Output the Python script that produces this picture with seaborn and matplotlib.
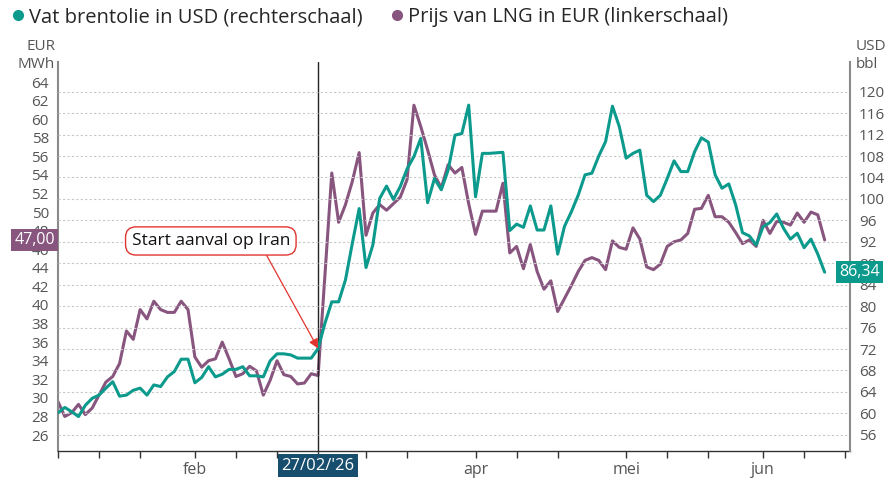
import numpy as np
import pandas as pd
import matplotlib
matplotlib.use("Agg")
import matplotlib.pyplot as plt
from matplotlib.lines import Line2D
import seaborn as sns

# dagkoersen, één waarde per handelsdag (start 6 jan 2026)
LNG_EUR = [
    29.6, 28.0, 28.4, 29.3, 28.2, 28.9, 30.3, 31.7, 32.3, 33.7,
    37.2, 36.3, 39.5, 38.5, 40.4, 39.5, 39.2, 39.2, 40.4, 39.5,
    34.4, 33.3, 34.0, 34.2, 36.0, 34.2, 32.3, 32.6, 33.4, 32.9,
    30.3, 31.9, 34.0, 32.5, 32.3, 31.5, 31.6, 32.6, 32.4, 43.2,
    54.2, 48.9, 50.8, 53.3, 56.4, 47.5, 49.9, 50.8, 50.2, 50.9,
    51.6, 53.5, 61.5, 59.2, 56.7, 54.0, 52.6, 55.1, 54.2, 54.8,
    50.9, 47.6, 50.1, 50.1, 50.1, 53.1, 45.6, 46.3, 43.9, 46.5,
    43.6, 41.7, 42.6, 39.3, 40.7, 42.1, 43.6, 44.8, 45.1, 44.8,
    43.8, 46.9, 46.2, 46.0, 48.3, 47.1, 44.1, 43.8, 44.4, 46.3,
    46.8, 47.0, 47.7, 50.3, 50.4, 51.8, 49.5, 49.5, 48.9, 47.8,
    46.6, 47.0, 46.3, 49.1, 47.7, 49.0, 48.9, 48.6, 49.9, 48.9,
    50.0, 49.7, 47.0,
]

BRENT_USD = [
    60.1, 61.1, 60.3, 59.4, 61.5, 62.8, 63.4, 64.7, 65.9, 63.2,
    63.4, 64.3, 64.7, 63.4, 65.3, 65.0, 66.8, 67.8, 70.1, 70.1,
    65.7, 66.7, 68.7, 66.8, 67.3, 68.2, 68.2, 68.7, 67.0, 67.0,
    66.8, 69.8, 71.1, 71.1, 70.9, 70.3, 70.3, 70.3, 72.1, 76.8,
    80.8, 80.8, 84.9, 91.7, 98.2, 87.2, 91.4, 100.1, 102.4, 99.9,
    102.3, 105.6, 107.9, 111.3, 99.3, 103.8, 101.7, 105.4, 111.9, 112.2,
    117.5, 100.4, 108.5, 108.5, 108.6, 108.7, 94.1, 95.3, 94.7, 98.7,
    94.2, 94.2, 98.7, 89.7, 94.9, 97.6, 100.7, 104.5, 104.8, 108.0,
    110.7, 117.3, 113.5, 107.6, 108.5, 109.1, 100.7, 99.5, 100.7, 103.8,
    107.1, 105.1, 105.1, 108.8, 111.4, 110.6, 104.5, 102.0, 102.8, 98.9,
    93.7, 93.1, 91.4, 94.8, 95.6, 97.2, 94.5, 92.5, 93.6, 90.9,
    92.5, 89.7, 86.34,
]

SERIES_LABELS = ["Vat brentolie in USD (rechterschaal)", "Prijs van LNG in EUR (linkerschaal)"]
MONTH_LABELS = ["feb", "apr", "mei", "jun"]
MONTH_POS = [20, 61, 83, 103]
TICK_POS = [0, 6, 12, 20, 26, 32, 38, 45, 51, 61, 67, 73, 83, 89, 95, 103, 109, 115]
LEFT_TICKS = list(range(26, 65, 2))
RIGHT_TICKS = list(range(56, 121, 4))
EVENT_IDX = 38
EVENT_LABEL = "27/02/'26"
ANNOTATION = "Start aanval op Iran"

TEAL = "#0c9a8d"
PLUM = "#88557f"
NAVY = "#174d6d"
RED = "#e2342f"
GREY = "#555555"


def build_df():
    df = pd.DataFrame({"lng": LNG_EUR, "brent": BRENT_USD})
    df["dag"] = np.arange(len(df))
    return df


def fmt(v):
    return f"{v:.2f}".replace(".", ",")


def main():
    sns.set_style("white")
    plt.rcParams["font.family"] = ["Open Sans", "DejaVu Sans"]

    df = build_df()

    fig = plt.figure(figsize=(8.89, 4.82), dpi=100)
    ax = fig.add_axes([0.0652, 0.0643, 0.8909, 0.807])
    ax2 = ax.twinx()

    sns.lineplot(data=df, x="dag", y="lng", ax=ax, color=PLUM, linewidth=2.2)
    sns.lineplot(data=df, x="dag", y="brent", ax=ax2, color=TEAL, linewidth=2.2)

    ax.set_xlim(0, 115.7)
    ax.set_ylim(24.28, 66.15)
    ax2.set_ylim(52.97, 125.54)

    ax.set_yticks(LEFT_TICKS)
    ax2.set_yticks(RIGHT_TICKS)
    ax.tick_params(axis="y", left=False, labelleft=True, pad=3, labelsize=11, labelcolor=GREY)
    ax2.tick_params(axis="y", right=False, labelright=True, pad=3, labelsize=11, labelcolor=GREY)

    ax2.yaxis.grid(True, linestyle=(0, (2, 2)), color="#c8c8c8", linewidth=0.8)
    ax2.set_axisbelow(True)

    # weekticks zonder label, maandnamen als minor ticks op dezelfde plek
    ax.xaxis.remove_overlapping_locs = False
    ax.set_xticks(TICK_POS)
    ax.set_xticklabels([])
    ax.set_xticks(MONTH_POS, minor=True)
    ax.set_xticklabels(MONTH_LABELS, minor=True)
    ax.tick_params(axis="x", which="major", bottom=True, length=5, width=1,
                   color="#333333", direction="out")
    ax.tick_params(axis="x", which="minor", bottom=True, labelbottom=True, length=0,
                   pad=8, labelsize=11.5, labelcolor=GREY)

    ax.set_xlabel("")
    ax.set_ylabel("")
    ax2.set_ylabel("")

    for a in (ax, ax2):
        a.spines["top"].set_visible(False)
    ax.spines["right"].set_visible(False)
    ax2.spines["left"].set_visible(False)
    ax2.spines["bottom"].set_visible(False)
    ax.spines["left"].set_color("#8a8a8a")
    ax.spines["left"].set_linewidth(1.5)
    ax2.spines["right"].set_color("#8a8a8a")
    ax2.spines["right"].set_linewidth(1.5)
    ax.spines["bottom"].set_color("#333333")
    ax.spines["bottom"].set_linewidth(1)

    # start van de aanval
    ax.axvline(EVENT_IDX, color="#222222", linewidth=1)
    ax.text(EVENT_IDX, -0.038, EVENT_LABEL, transform=ax.get_xaxis_transform(),
            ha="center", va="center", color="white", fontsize=12,
            bbox=dict(boxstyle="square,pad=0.2", fc=NAVY, ec="none"))

    ax2.annotate(ANNOTATION, xy=(EVENT_IDX, BRENT_USD[EVENT_IDX]),
                 xytext=(0.193, 0.54), textcoords="axes fraction",
                 ha="center", va="center", fontsize=12.5, color="#111111",
                 bbox=dict(boxstyle="round,pad=0.35,rounding_size=0.6", fc="white", ec=RED, lw=1),
                 arrowprops=dict(arrowstyle="-|>", color=RED, lw=0.9, mutation_scale=14,
                                 shrinkA=0, shrinkB=0, relpos=(0.83, 0)))

    # laatste waarden
    ax.text(-0.004, LNG_EUR[-1], fmt(LNG_EUR[-1]), transform=ax.get_yaxis_transform(),
            ha="right", va="center", color="white", fontsize=11.5,
            bbox=dict(boxstyle="square,pad=0.2", fc=PLUM, ec="none"))
    ax2.text(1.0126, BRENT_USD[-1], fmt(BRENT_USD[-1]), transform=ax2.get_yaxis_transform(),
             ha="center", va="center", color="white", fontsize=11.5,
             bbox=dict(boxstyle="square,pad=0.2", fc=TEAL, ec="none"))

    fig.text(55 / 889, 1 - 46 / 482, "EUR", ha="right", va="center", fontsize=11, color=GREY)
    fig.text(55 / 889, 1 - 65 / 482, "MWh", ha="right", va="center", fontsize=11, color=GREY)
    fig.text(856 / 889, 1 - 46 / 482, "USD", ha="left", va="center", fontsize=11, color=GREY)
    fig.text(856 / 889, 1 - 65 / 482, "bbl", ha="left", va="center", fontsize=11, color=GREY)

    handles = [
        Line2D([], [], marker="o", linestyle="", color=TEAL, markersize=7),
        Line2D([], [], marker="o", linestyle="", color=PLUM, markersize=7),
    ]
    fig.legend(handles, SERIES_LABELS, loc="center left", bbox_to_anchor=(0.0, 1 - 17 / 482),
               ncol=2, frameon=False, fontsize=14.5, handletextpad=0.05, columnspacing=1.2,
               handlelength=1.0, borderaxespad=0)

    fig.savefig("out.png", dpi=100)
    plt.close(fig)


if __name__ == "__main__":
    main()
